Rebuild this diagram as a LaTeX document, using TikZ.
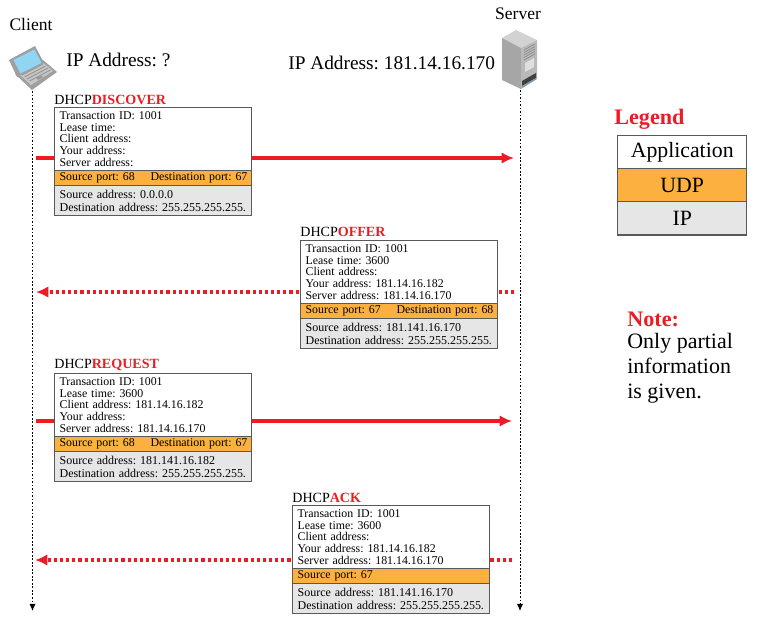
\documentclass[tikz,border=0pt]{standalone}
\usepackage{fontspec}
\setmainfont{Liberation Serif}
\usepackage{xcolor}
\usepackage{tikz}
\usetikzlibrary{arrows}
\usetikzlibrary{arrows.meta}
\usetikzlibrary{positioning}
\definecolor{msgred}{HTML}{ED1C24}
\definecolor{udporange}{HTML}{FBB040}
\definecolor{ipgray}{HTML}{E6E6E6}
\definecolor{boxedge}{HTML}{58595B}
\definecolor{lapscreen}{HTML}{8FD6F5}
\frenchspacing
\tikzset{>=latex}
\tikzstyle{msgbox} = [rectangle, draw=boxedge, line width=.7pt, anchor=north west, minimum width=3.94cm, text width=3.74cm, inner xsep=.1cm, inner ysep=0pt, align=left]
\tikzstyle{appbox} = [msgbox, fill=white, minimum height=1.26cm, font=\frenchspacing\fontsize{6.75}{6.7}\selectfont]
\tikzstyle{udpbox} = [msgbox, fill=udporange, minimum height=.3cm, font=\frenchspacing\fontsize{6.75}{6.7}\selectfont]
\tikzstyle{ipbox} = [msgbox, fill=ipgray, minimum height=.6cm, font=\frenchspacing\fontsize{6.82}{7.6}\selectfont]
\tikzstyle{msgtitle} = [anchor=south west, inner sep=0pt, font=\fontsize{8}{8}\selectfont]
\tikzstyle{legendbox} = [rectangle, draw=boxedge, line width=.8pt, anchor=north west, minimum width=2.58cm, minimum height=.67cm, inner sep=0pt, font=\fontsize{12.4}{12.4}\selectfont]
\tikzstyle{bigtext} = [anchor=west, inner sep=0pt, font=\frenchspacing\fontsize{11}{11}\selectfont]
\tikzstyle{headtext} = [anchor=center, inner sep=0pt, font=\fontsize{10}{10}\selectfont]
\tikzstyle{lifeline} = [-{Latex[length=4pt,width=3.5pt]}, draw=black, line width=.55pt, dash pattern=on 1pt off 1pt]
\tikzstyle{reqarrow} = [-{Latex[length=7pt,width=6.5pt]}, draw=msgred, line width=1.8pt]
\tikzstyle{reparrow} = [-{Latex[length=7pt,width=6.5pt]}, draw=msgred, line width=1.8pt, dash pattern=on 1.8pt off 1.7pt]
\newcommand{\redword}[1]{\textcolor{msgred}{\textbf{#1}}}

\begin{document}
\begin{tikzpicture}[x=.02cm, y=-.02cm]
\useasboundingbox (0, 0) rectangle (757, 635);

% lifelines
\coordinate (clienttop) at (32.5, 91);
\coordinate (clientend) at (32.5, 611);
\coordinate (servertop) at (520, 90);
\coordinate (serverend) at (520, 611);
\draw [lifeline] (clienttop) to (clientend);
\draw [lifeline] (servertop) to (serverend);

% laptop
\fill [gray!75] (15, 74) -- (43, 60) -- (57, 72) -- (32, 90) -- cycle;
\fill [gray!45] (19, 74) -- (42, 62) -- (53, 71) -- (31, 85) -- cycle;
\foreach \k in {0, 1, 2, 3} {
  \draw [gray!85, line width=.5pt] ({22+\k*2.5}, {75+\k*2}) -- ({43+\k*2.5}, {64+\k*2});
}
\fill [gray!80] (36, 78) -- (41, 75.5) -- (43, 77) -- (38, 80) -- cycle;
\fill [gray!75] (9, 60) -- (35, 46) -- (44, 63) -- (17, 77) -- cycle;
\fill [lapscreen] (13.5, 60) -- (34.5, 49.5) -- (41.5, 63) -- (20.5, 73.5) -- cycle;

% server
\fill [gray!35] (516, 30) -- (502, 38) -- (521, 48) -- (537, 40) -- cycle;
\fill [gray!70] (502, 38) -- (521, 48) -- (521, 89) -- (502, 80) -- cycle;
\fill [gray!55] (521, 48) -- (537, 40) -- (537, 79) -- (521, 89) -- cycle;
\foreach \k in {0, 1, 2, 3, 4} {
  \draw [gray!90, line width=.4pt] (524, {50+\k*2.5}) -- (535, {44+\k*2.5});
}
\fill [gray!25] (525, 63) -- (534, 58) -- (534, 67) -- (525, 72) -- cycle;
\fill [black!75] (522, 81) -- (536, 73) -- (536, 78) -- (522, 86) -- cycle;
\fill [cyan!30!gray] (522, 86) -- (536, 78) -- (536, 79.5) -- (522, 88) -- cycle;

% headings
\node [headtext] (client) at (31, 24) {Client};
\node [headtext] (server) at (518, 14) {Server};
\node [bigtext] (clientip) at (66, 60) {IP Address: ?};
\node [bigtext] (serverip) at (288, 63) {IP Address: 181.14.16.170};

% arrows first, the boxes cover them
\coordinate (discoverfrom) at (36, 158);
\coordinate (discoverto) at (514, 158);
\coordinate (offerfrom) at (514, 292);
\coordinate (offerto) at (36, 292);
\coordinate (requestfrom) at (36, 421);
\coordinate (requestto) at (512, 421);
\coordinate (ackfrom) at (512, 560);
\coordinate (ackto) at (35, 560);
\draw [reqarrow] (discoverfrom) to (discoverto);
\draw [reparrow] (offerfrom) to (offerto);
\draw [reqarrow] (requestfrom) to (requestto);
\draw [reparrow] (ackfrom) to (ackto);

% DHCPDISCOVER
\node [msgtitle] (discover) at (54, 105) {DHCP\redword{DISCOVER}};
\node [appbox] (discoverapp) at (54, 107) {Transaction ID: 1001\\Lease time:\\Client address:\\Your address:\\Server address:};
\node [udpbox] (discoverudp) at (54, 170) {\mbox{Source port: 68\hspace{9pt}Destination port: 67}};
\node [ipbox] (discoverip) at (54, 185) {Source address: 0.0.0.0\\\mbox{Destination address: 255.255.255.255.}};

% DHCPOFFER
\node [msgtitle] (offer) at (300, 237) {DHCP\redword{OFFER}};
\node [appbox] (offerapp) at (300, 240) {Transaction ID: 1001\\Lease time: 3600\\Client address:\\Your address: 181.14.16.182\\Server address: 181.14.16.170};
\node [udpbox] (offerudp) at (300, 303) {\mbox{Source port: 67\hspace{9pt}Destination port: 68}};
\node [ipbox] (offerip) at (300, 318) {Source address: 181.141.16.170\\\mbox{Destination address: 255.255.255.255.}};

% DHCPREQUEST
\node [msgtitle] (request) at (54, 371) {DHCP\redword{REQUEST}};
\node [appbox] (requestapp) at (54, 373) {Transaction ID: 1001\\Lease time: 3600\\Client address: 181.14.16.182\\Your address:\\Server address: 181.14.16.170};
\node [udpbox] (requestudp) at (54, 436) {\mbox{Source port: 68\hspace{9pt}Destination port: 67}};
\node [ipbox] (requestip) at (54, 451) {Source address: 181.141.16.182\\\mbox{Destination address: 255.255.255.255.}};

% DHCPACK
\node [msgtitle] (ack) at (292, 503) {DHCP\redword{ACK}};
\node [appbox] (ackapp) at (292, 505) {Transaction ID: 1001\\Lease time: 3600\\Client address:\\Your address: 181.14.16.182\\Server address: 181.14.16.170};
\node [udpbox] (ackudp) at (292, 568) {Source port: 67};
\node [ipbox] (ackip) at (292, 583) {Source address: 181.141.16.170\\\mbox{Destination address: 255.255.255.255.}};

% legend and note
\node [anchor=west, inner sep=0pt, text=msgred, font=\fontsize{12.6}{12.6}\selectfont\bfseries] (legend) at (614, 119.5) {Legend};
\node [legendbox, fill=white] (legendapp) at (617, 134.5) {Application};
\node [legendbox, fill=udporange] (legendudp) at (617, 168) {UDP};
\node [legendbox, fill=ipgray] (legendip) at (617, 201) {IP};
\node [anchor=west, inner sep=0pt, text=msgred, font=\fontsize{12.6}{12.6}\selectfont\bfseries] (note) at (627, 319) {Note:};
\node [anchor=north west, inner sep=0pt, align=left, font=\fontsize{12.5}{14.2}\selectfont] (notetext) at (627, 333) {Only partial\\information\\is given.};
\end{tikzpicture}
\end{document}
